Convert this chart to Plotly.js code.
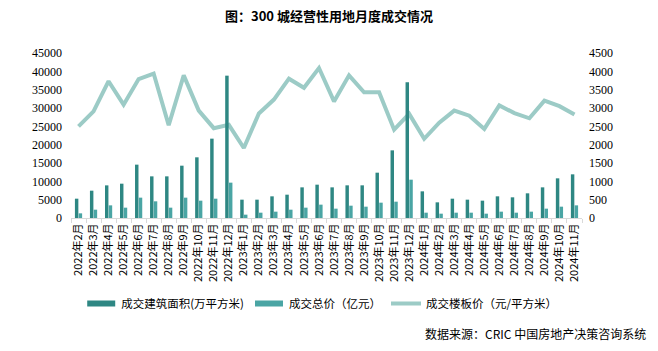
<!DOCTYPE html>
<html>
<head>
<meta charset="utf-8">
<script src="https://cdn.plot.ly/plotly-3.0.1.min.js"></script>
<style>html,body{margin:0;padding:0;background:#fff;}#chart{width:658px;height:351px;}</style>
</head>
<body>
<div id="chart"></div>
<script>
const months = [
  "2022年2月","2022年3月","2022年4月","2022年5月","2022年6月","2022年7月","2022年8月","2022年9月","2022年10月","2022年11月","2022年12月",
  "2023年1月","2023年2月","2023年3月","2023年4月","2023年5月","2023年6月","2023年7月","2023年8月","2023年9月","2023年10月","2023年11月","2023年12月",
  "2024年1月","2024年2月","2024年3月","2024年4月","2024年5月","2024年6月","2024年7月","2024年8月","2024年9月","2024年10月","2024年11月"
];
// 成交建筑面积（万平方米） - left axis
const areaValues = [
  5270,7450,8900,9360,14550,11360,11360,14270,16550,21640,38820,
  5000,5000,5910,6360,8360,9090,8360,8910,8910,12360,18450,37000,
  7270,4270,5270,5000,4730,5910,5640,6730,8360,10820,11910
];
// 成交总价（亿元） - left axis
const totalValues = [
  1270,2270,3450,2820,5550,4550,2820,5550,4730,5270,9640,
  910,1450,1730,2270,2820,3640,2550,3360,3090,4180,4450,10450,
  1450,1180,1450,1450,1180,1730,1450,1730,2550,3090,3450
];
// 成交楼板价（元/平方米） - right axis
const priceValues = [
  2500,2910,3730,3090,3790,3940,2530,3890,2930,2450,2540,
  1910,2850,3230,3800,3550,4090,3180,3890,3430,3430,2410,2840,
  2160,2600,2930,2790,2430,3070,2860,2720,3200,3050,2820
];
const leftTicks = [0,5000,10000,15000,20000,25000,30000,35000,40000,45000];
const rightTicks = [0,500,1000,1500,2000,2500,3000,3500,4000,4500];

const cjk = '"Noto Sans CJK SC", "Noto Sans", sans-serif';
const num = '"Liberation Serif", "DejaVu Serif", serif';

const traces = [
  {type:'bar', name:'成交建筑面积(万平方米)', x:months, y:areaValues, yaxis:'y2',
   marker:{color:'#2e8783'}, hoverinfo:'skip'},
  {type:'bar', name:'成交总价（亿元）', x:months, y:totalValues, yaxis:'y2',
   marker:{color:'#4aa5a4'}, hoverinfo:'skip'},
  {type:'scatter', mode:'lines', name:'成交楼板价（元/平方米）', x:months, y:priceValues, yaxis:'y',
   line:{color:'#9ccbc6', width:4}, hoverinfo:'skip'}
];

const layout = {
  width:658, height:351,
  margin:{l:71, r:76, t:53, b:133},
  paper_bgcolor:'#ffffff', plot_bgcolor:'#ffffff',
  showlegend:true,
  barmode:'group', bargap:0.5, bargroupgap:0.08,
  title:{text:'<b>图：300 城经营性用地月度成交情况</b>', x:0.5, xanchor:'center', y:0.952, yanchor:'middle',
         font:{family:cjk, size:13, color:'#000'}},
  xaxis:{type:'category', showgrid:false, zeroline:false, showline:true, linecolor:'#d9d9d9', linewidth:1,
         ticks:'outside', tickson:'boundaries', ticklen:4, tickcolor:'#d9d9d9', tickangle:-90,
         tickfont:{family:cjk, size:11, color:'#000'}},
  yaxis:{side:'right', range:[0,4500], tickvals:rightTicks, ticktext:rightTicks.map(String), showgrid:false, zeroline:false,
         showline:false, ticklabelstandoff:6, tickfont:{family:num, size:12, color:'#000'}},
  yaxis2:{side:'left', overlaying:'y', range:[0,45000], tickvals:leftTicks, ticktext:leftTicks.map(String), showgrid:false, zeroline:false,
          showline:false, ticklabelstandoff:8, tickfont:{family:num, size:12, color:'#000'}},
  legend:{orientation:'h', x:0.02, xanchor:'left', y:-0.43, yanchor:'top', traceorder:'normal',
          font:{family:cjk, size:11.5, color:'#000'}, itemwidth:30, bgcolor:'rgba(0,0,0,0)'},
  annotations:[
    {text:'数据来源：CRIC 中国房地产决策咨询系统', xref:'paper', yref:'paper', x:1.13, xanchor:'right',
     y:-0.697, yanchor:'middle', showarrow:false, font:{family:cjk, size:12, color:'#000'}}
  ]
};

Plotly.newPlot('chart', traces, layout, {staticPlot:true, displayModeBar:false}).then(function(gd){
  // widen bar legend swatches to flat rectangles like the reference
  gd.querySelectorAll('.legend .traces').forEach(function(t){
    t.querySelectorAll('.legendpoints path.legendundefined, .legendpoints .legendbar path, .legendpoints path').forEach(function(p){
      if (p.closest('.legendbar') || (p.getAttribute('d')||'').indexOf('M6,6H-6V-6H6Z')===0) {
        p.setAttribute('d','M-14,-3H14V3H-14Z');
      }
    });
  });
});
</script>
</body>
</html>
